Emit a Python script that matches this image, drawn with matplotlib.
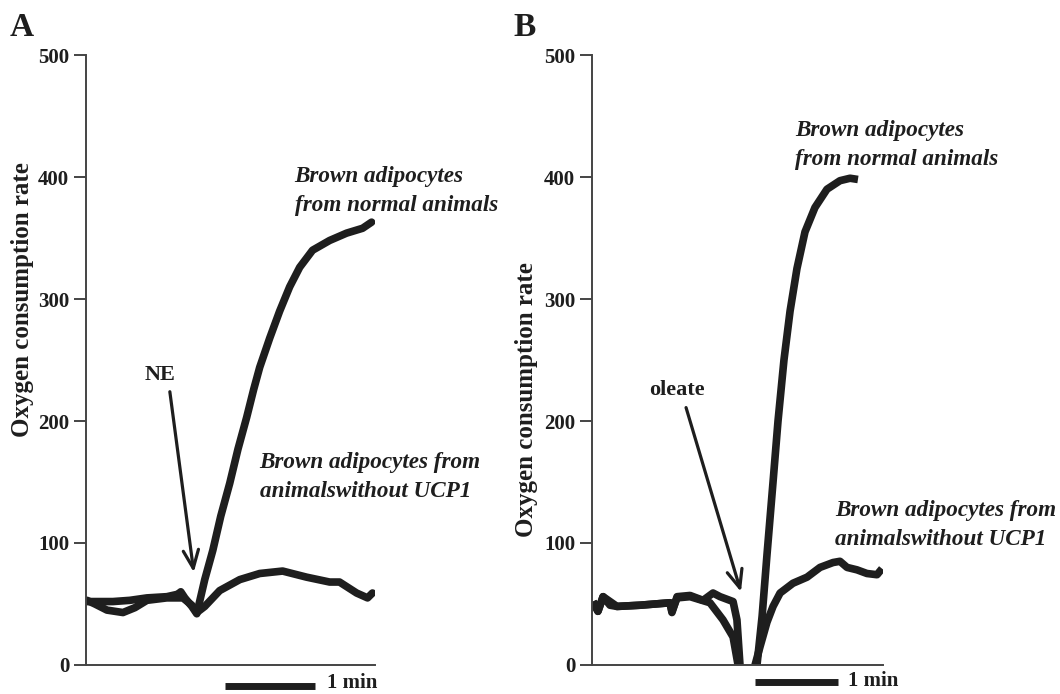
import numpy as np
import matplotlib.pyplot as plt

plt.rcParams['font.family'] = ['Liberation Serif', 'DejaVu Serif']
plt.rcParams['font.weight'] = 'bold'

# Panel A: norepinephrine, time in seconds
a_t_normal = [0.7, 9.3, 18, 29.3, 40.7, 54, 61.3, 63.3, 66, 70.7, 74, 79.3, 84.7,
              90, 96, 101.5, 107.3, 112, 116, 122.7, 129.3, 136, 142.7, 151.3,
              162.7, 174, 184.7, 190.7]
a_v_normal = [52, 52, 52, 53, 55, 56, 58, 60, 55, 48, 42, 70, 94,
              122, 149, 177, 203, 226, 244, 268, 290, 310, 326, 340,
              348, 354, 358, 363]
a_t_ucp1 = [0.7, 6, 14, 24.7, 32.7, 40.7, 54, 64.7, 70.7, 74, 79.3, 89.3, 102.7,
            116, 131.3, 147.3, 162.7, 169.3, 180.7, 188, 191.3]
a_v_ucp1 = [53, 50, 45, 43, 47, 53, 55, 55, 49, 43, 48, 61, 70,
            75, 77, 72, 68, 68, 59, 55, 59]

# Panel B: oleate, time in seconds (nan = trace off scale)
b_t_normal = [0.7, 4.3, 8, 13, 18.1, 34.7, 56.4, 57.8, 61.5, 70.9, 80.3, 87.5, 92.6,
              102, 104.8, 107, 113, 119.3, 123, 126.5, 130.9, 134.5, 138.8, 143.2,
              148.2, 154, 161.2, 169.9, 179.3, 186.6, 192.3]
b_v_normal = [52, 44, 56, 49, 48, 49, 51, 43, 56, 57, 53, 59, 56,
              52, 37, 0, np.nan, 0, 40, 90, 150, 200, 250, 290,
              325, 355, 375, 390, 397, 399, 398]
b_t_ucp1 = [0.7, 4.3, 8, 18.1, 34.7, 56.4, 57.8, 61.5, 70.9, 85.3, 94.7, 102, 105.6,
            112, 117.9, 121.5, 126.5, 130.9, 136, 145.3, 155.5, 164.9, 174.3,
            179.3, 184.4, 191.6, 198.8, 206.1, 209.7]
b_v_ucp1 = [52, 44, 56, 48, 49, 51, 44, 55, 56, 51, 37, 23, 0,
            np.nan, 0, 15, 35, 48, 59, 67, 72, 80, 84,
            85, 80, 78, 75, 74, 79]

yticks = [0, 100, 200, 300, 400, 500]
ylabel = 'Oxygen consumption rate'
label_normal = 'Brown adipocytes\nfrom normal animals'
label_ucp1 = 'Brown adipocytes from\nanimalswithout UCP1'

ink = '#1e1e1e'
fig = plt.figure(figsize=(10.6, 6.94), dpi=100)
ax_a = fig.add_axes([0.0811, 0.0418, 0.2727, 0.8789])
ax_b = fig.add_axes([0.5585, 0.0418, 0.2745, 0.8789])


def style_axes(ax, xmax):
    ax.set_xlim(0, xmax)
    ax.set_ylim(0, 500)
    for side in ('top', 'right'):
        ax.spines[side].set_visible(False)
    for side in ('left', 'bottom'):
        ax.spines[side].set_linewidth(1.4)
        ax.spines[side].set_color('#444444')
    ax.set_xticks([])
    ax.set_yticks(yticks)
    ax.tick_params(axis='y', length=9, width=1.4, color='#444444',
                   labelsize=15, pad=3, labelcolor=ink)
    for lab in ax.get_yticklabels():
        lab.set_fontweight('bold')


style_axes(ax_a, 193)
style_axes(ax_b, 210.4)

lw = 5.5
ax_a.plot(a_t_ucp1, a_v_ucp1, color=ink, lw=lw, solid_capstyle='round', solid_joinstyle='round')
ax_a.plot(a_t_normal, a_v_normal, color=ink, lw=lw, solid_capstyle='round', solid_joinstyle='round')
ax_b.plot(b_t_ucp1, b_v_ucp1, color=ink, lw=lw, solid_capstyle='butt', solid_joinstyle='round')
ax_b.plot(b_t_normal, b_v_normal, color=ink, lw=lw, solid_capstyle='butt', solid_joinstyle='round')

# injection arrows
arrow = dict(arrowstyle='->,head_length=1.3,head_width=0.55', lw=2.3, color=ink,
             shrinkA=0, shrinkB=0)
ax_a.text(49.3, 237.7, 'NE', ha='center', va='center', fontsize=16, color=ink)
ax_a.annotate('', xy=(72, 76), xytext=(56, 224), arrowprops=arrow)
ax_b.text(61.5, 225.4, 'oleate', ha='center', va='center', fontsize=16, color=ink)
ax_b.annotate('', xy=(107.7, 60), xytext=(68, 211), arrowprops=arrow)

# trace labels
txt = dict(fontsize=16.7, style='italic', color=ink, va='center', ha='left', linespacing=1.5)
ax_a.text(139.3, 388.5, label_normal, **txt)
ax_a.text(116, 154, label_ucp1, **txt)
ax_b.text(146.8, 426, label_normal, **txt)
ax_b.text(175.7, 114.8, label_ucp1, **txt)

# 1 min scale bars
ax_a.plot([92.7, 152.7], [-17, -17], color=ink, lw=5, clip_on=False, solid_capstyle='butt')
ax_a.text(160.7, -15, '1 min', ha='left', va='center', fontsize=15, color=ink)
ax_b.plot([117.9, 177.9], [-14, -14], color=ink, lw=5, clip_on=False, solid_capstyle='butt')
ax_b.text(185, -13, '1 min', ha='left', va='center', fontsize=15, color=ink)

fig.text(0.0208, 0.96, 'A', fontsize=24, ha='center', va='center', color=ink)
fig.text(0.495, 0.96, 'B', fontsize=24, ha='center', va='center', color=ink)
fig.text(0.0208, 1 - 300 / 694, ylabel, rotation=90, fontsize=18,
         ha='center', va='center', color=ink)
fig.text(0.497, 1 - 400 / 694, ylabel, rotation=90, fontsize=18,
         ha='center', va='center', color=ink)

fig.savefig('out.png', dpi=100)
